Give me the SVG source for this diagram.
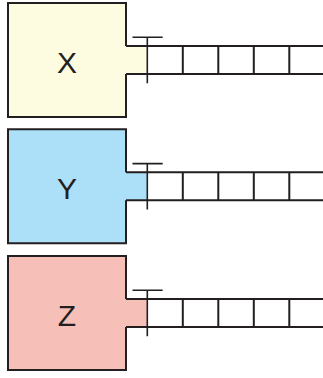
<svg xmlns="http://www.w3.org/2000/svg" width="323" height="378" viewBox="0 0 323 378">
<style>
.fill{stroke:none}
.outline{fill:none;stroke:#231F20;stroke-width:2;stroke-linejoin:miter}
.chan{fill:none;stroke:#231F20;stroke-width:2}
.tee{fill:none;stroke:#231F20;stroke-width:1.6}
.lbl{font-family:"Liberation Sans",Arial,sans-serif;font-size:30px;fill:#231F20;text-anchor:middle}
</style>
<defs>
<g id="unit">
<path class="outline" d="M126,46 V3 H8 V117 H126 V74"/>
<path class="chan" d="M126,46 H323 M126,74 H323 M182.8,46 V74 M218.3,46 V74 M253.8,46 V74 M289.3,46 V74"/>
<path class="tee" d="M132.5,37.3 H162.7 M147.3,37.3 V83.3"/>
</g>
</defs>
<g id="node-x">
<path class="fill" fill="#FEFCE0" d="M8,3 H126 V46 H147.3 V74 H126 V117 H8 Z"/>
<use href="#unit"/>
<text class="lbl" x="67" y="72.5">X</text>
</g>
<g id="node-y" transform="translate(0,126.3)">
<path class="fill" fill="#ACDFF8" d="M8,3 H126 V46 H147.3 V74 H126 V117 H8 Z"/>
<use href="#unit"/>
<text class="lbl" x="67" y="72.5">Y</text>
</g>
<g id="node-z" transform="translate(0,253)">
<path class="fill" fill="#F6BFB8" d="M8,3 H126 V46 H147.3 V74 H126 V117 H8 Z"/>
<use href="#unit"/>
<text class="lbl" x="67" y="72.5">Z</text>
</g>
<g id="connectors"/>
</svg>
